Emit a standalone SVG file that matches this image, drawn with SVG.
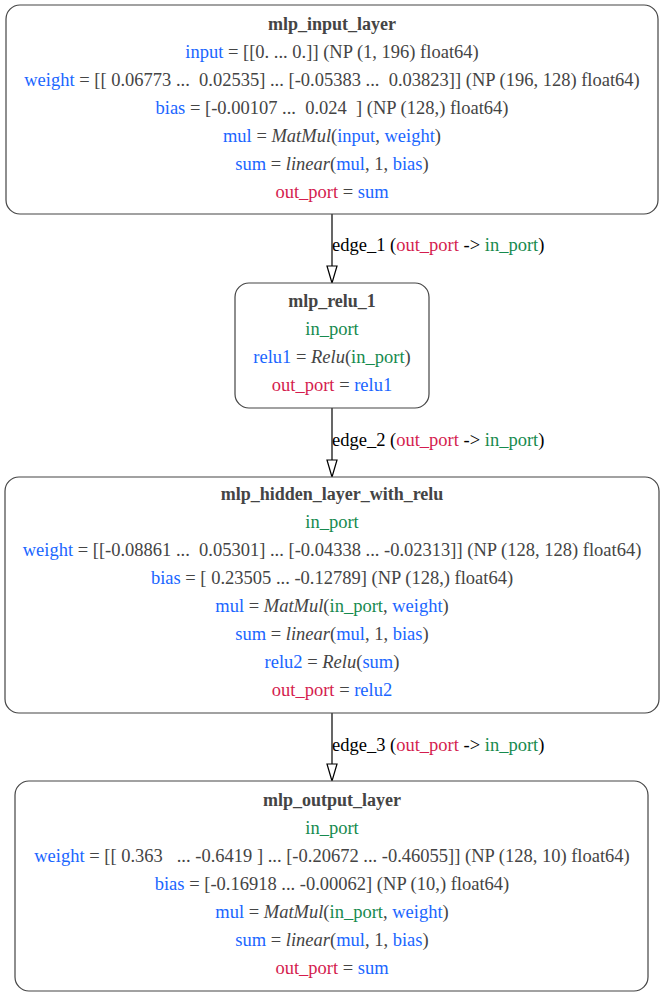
<svg xmlns="http://www.w3.org/2000/svg" width="664" height="996" viewBox="0 0 664 996" xml:space="preserve">
<style>
text{font-family:"Liberation Serif","Times New Roman",serif;font-size:18.5px;fill:#444;white-space:pre}
.c{text-anchor:middle}
.t{font-weight:bold;font-size:18px}
.b{fill:#1a66ff}
.r{fill:#d41c4e}
.g{fill:#168a4e}
.i{font-style:italic}
.k{fill:#000}
.n{fill:#fff;stroke:#444;stroke-width:1.2}
.e{stroke:#000;stroke-width:1.2;fill:none}
.a{fill:#fff;stroke:#000;stroke-width:1.2}
</style>
<g id="connectors">
<g id="edge_1">
<line class="e" x1="332" y1="214" x2="332" y2="266"/>
<polygon class="a" points="327,266 337,266 332,283"/>
<text x="332" y="251" class="k">edge_1 (<tspan class="r">out_port</tspan> -&gt; <tspan class="g">in_port</tspan>)</text>
</g>
<g id="edge_2">
<line class="e" x1="332" y1="408" x2="332" y2="460"/>
<polygon class="a" points="327,460 337,460 332,477"/>
<text x="332" y="446" class="k">edge_2 (<tspan class="r">out_port</tspan> -&gt; <tspan class="g">in_port</tspan>)</text>
</g>
<g id="edge_3">
<line class="e" x1="332" y1="713" x2="332" y2="764"/>
<polygon class="a" points="327,764 337,764 332,781"/>
<text x="332" y="751" class="k">edge_3 (<tspan class="r">out_port</tspan> -&gt; <tspan class="g">in_port</tspan>)</text>
</g>
</g>
<g id="mlp_input_layer">
<rect class="n" x="6" y="5" width="652" height="209" rx="14"/>
<text class="c t" x="332" y="30">mlp_input_layer</text>
<text class="c" x="332" y="58"><tspan class="b">input</tspan> = [[0. ... 0.]] (NP (1, 196) float64)</text>
<text class="c" x="332" y="86"><tspan class="b">weight</tspan> = [[ 0.06773 ...  0.02535] ... [-0.05383 ...  0.03823]] (NP (196, 128) float64)</text>
<text class="c" x="332" y="114"><tspan class="b">bias</tspan> = [-0.00107 ...  0.024  ] (NP (128,) float64)</text>
<text class="c" x="332" y="142"><tspan class="b">mul</tspan> = <tspan class="i">MatMul</tspan>(<tspan class="b">input</tspan>, <tspan class="b">weight</tspan>)</text>
<text class="c" x="332" y="170"><tspan class="b">sum</tspan> = <tspan class="i">linear</tspan>(<tspan class="b">mul</tspan>, 1, <tspan class="b">bias</tspan>)</text>
<text class="c" x="332" y="198"><tspan class="r">out_port</tspan> = <tspan class="b">sum</tspan></text>
</g>
<g id="mlp_relu_1">
<rect class="n" x="235" y="283" width="194" height="125" rx="14"/>
<text class="c t" x="332" y="307">mlp_relu_1</text>
<text class="c g" x="332" y="335">in_port</text>
<text class="c" x="332" y="363"><tspan class="b">relu1</tspan> = <tspan class="i">Relu</tspan>(<tspan class="g">in_port</tspan>)</text>
<text class="c" x="332" y="391"><tspan class="r">out_port</tspan> = <tspan class="b">relu1</tspan></text>
</g>
<g id="mlp_hidden_layer_with_relu">
<rect class="n" x="5" y="477" width="654" height="236" rx="14"/>
<text class="c t" x="332" y="500">mlp_hidden_layer_with_relu</text>
<text class="c g" x="332" y="528">in_port</text>
<text class="c" x="332" y="556"><tspan class="b">weight</tspan> = [[-0.08861 ...  0.05301] ... [-0.04338 ... -0.02313]] (NP (128, 128) float64)</text>
<text class="c" x="332" y="584"><tspan class="b">bias</tspan> = [ 0.23505 ... -0.12789] (NP (128,) float64)</text>
<text class="c" x="332" y="612"><tspan class="b">mul</tspan> = <tspan class="i">MatMul</tspan>(<tspan class="g">in_port</tspan>, <tspan class="b">weight</tspan>)</text>
<text class="c" x="332" y="640"><tspan class="b">sum</tspan> = <tspan class="i">linear</tspan>(<tspan class="b">mul</tspan>, 1, <tspan class="b">bias</tspan>)</text>
<text class="c" x="332" y="668"><tspan class="b">relu2</tspan> = <tspan class="i">Relu</tspan>(<tspan class="b">sum</tspan>)</text>
<text class="c" x="332" y="696"><tspan class="r">out_port</tspan> = <tspan class="b">relu2</tspan></text>
</g>
<g id="mlp_output_layer">
<rect class="n" x="15" y="781" width="633" height="210" rx="14"/>
<text class="c t" x="332" y="806">mlp_output_layer</text>
<text class="c g" x="332" y="834">in_port</text>
<text class="c" x="332" y="862"><tspan class="b">weight</tspan> = [[ 0.363   ... -0.6419 ] ... [-0.20672 ... -0.46055]] (NP (128, 10) float64)</text>
<text class="c" x="332" y="890"><tspan class="b">bias</tspan> = [-0.16918 ... -0.00062] (NP (10,) float64)</text>
<text class="c" x="332" y="918"><tspan class="b">mul</tspan> = <tspan class="i">MatMul</tspan>(<tspan class="g">in_port</tspan>, <tspan class="b">weight</tspan>)</text>
<text class="c" x="332" y="946"><tspan class="b">sum</tspan> = <tspan class="i">linear</tspan>(<tspan class="b">mul</tspan>, 1, <tspan class="b">bias</tspan>)</text>
<text class="c" x="332" y="974"><tspan class="r">out_port</tspan> = <tspan class="b">sum</tspan></text>
</g>
</svg>
